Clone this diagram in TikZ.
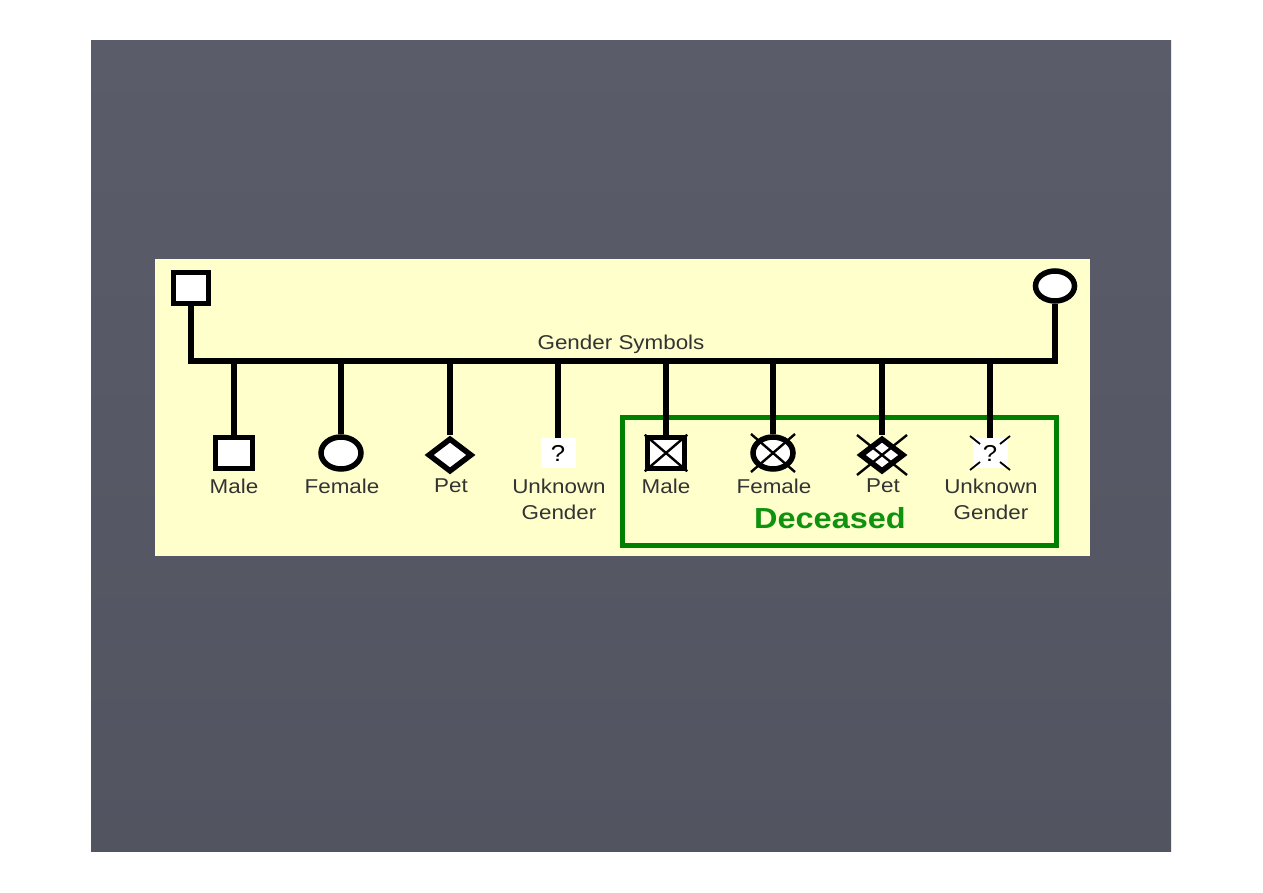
\documentclass[tikz,border=0pt]{standalone}
\usepackage{fontspec}
\usetikzlibrary{shapes.geometric,calc}
\newfontfamily\labfont[FakeStretch=1.12]{Liberation Sans}
\definecolor{slatetop}{HTML}{5A5C6A}
\definecolor{slatebot}{HTML}{525460}
\definecolor{panel}{HTML}{FFFFCC}
\definecolor{dgreen}{HTML}{008000}
\definecolor{tgreen}{HTML}{0F930F}
\definecolor{txt}{HTML}{333333}
\tikzset{
  ln/.style={line width=6pt, line cap=rect},
  msq/.style={draw, line width=5.5pt, fill=white, rectangle, minimum width=37pt, minimum height=31pt, inner sep=0pt},
  fcirc/.style={draw, line width=5.5pt, fill=white, ellipse, minimum width=40pt, minimum height=32pt, inner sep=0pt},
  pdia/.style={draw, line width=5.5pt, fill=white, diamond, minimum width=44pt, minimum height=34pt, inner sep=0pt},
  ubox/.style={fill=white, rectangle, minimum width=35pt, minimum height=30pt, inner sep=0pt, text=black, font=\labfont\fontsize{23}{24}\selectfont},
  xln/.style={line width=2.4pt},
  tick/.style={line width=1.8pt},
  lab/.style={text=txt, font=\labfont\fontsize{20}{26}\selectfont, align=center, inner sep=0pt},
}
\begin{document}
\begin{tikzpicture}[x=1pt,y=-1pt]
\useasboundingbox (0,0) rectangle (1263,893);
\fill[white] (0,0) rectangle (1263,893);
\shade[top color=slatetop, bottom color=slatebot] (91,41) rectangle (1171,851);
\fill[panel] (155,259) rectangle (1090,556);
% deceased frame
\draw[dgreen, line width=5pt] (622,417) rectangle (1056,545);
\node[text=tgreen, font=\labfont\bfseries\fontsize{29}{32}\selectfont, inner sep=0pt] (dec) at (830,518) {Deceased};
% parents
\node[msq, minimum width=35pt] (father) at (191,288) {};
\node[fcirc, minimum width=39pt, minimum height=30pt] (mother) at (1055,286) {};
\coordinate (jl) at (191,361);
\coordinate (jr) at (1055,361);
\draw[ln, line cap=butt] (father) -- (jl);
\draw[ln, line cap=butt] (mother) -- (jr);
\draw[ln] (jl) -- (jr);
\node[lab] (title) at (621,344) {Gender Symbols};
% children (living)
\node[msq] (male) at (234,453) {};
\node[fcirc] (female) at (341,453) {};
\node[pdia] (pet) at (450,455) {};
\node[ubox] (unk) at (558,453) {?};
% children (deceased)
\node[msq] (dmale) at (666,453) {};
\node[fcirc] (dfemale) at (773,453) {};
\node[pdia] (dpet) at (882,455) {};
\node[ubox] (dunk) at (990,453) {};
% drop lines
\foreach \n/\x in {male/234, female/341, pet/450, unk/558, dmale/666, dfemale/773, dpet/882, dunk/990}{
  \coordinate (t\n) at (\x,361);
  \draw[ln, line cap=butt] (t\n) -- (\n.north);
}
% crosses
\draw[xln] (dmale.north west) -- (dmale.south east);
\draw[xln] (dmale.south west) -- (dmale.north east);
\draw[xln] ($(dfemale.center)+(-22,-19)$) -- ($(dfemale.center)+(22,19)$);
\draw[xln] ($(dfemale.center)+(-22,19)$) -- ($(dfemale.center)+(22,-19)$);
\draw[xln] ($(dpet.center)+(-25,-20)$) -- ($(dpet.center)+(25,20)$);
\draw[xln] ($(dpet.center)+(-25,20)$) -- ($(dpet.center)+(25,-20)$);
\foreach \sx/\sy in {-1/-1, 1/-1, -1/1, 1/1}{
  \draw[tick] ($(dunk.center)+(\sx*20,\sy*17)$) -- ($(dunk.center)+(\sx*10,\sy*9)$);
}
\node[text=black, font=\labfont\fontsize{23}{24}\selectfont, inner sep=0pt] (dq) at (dunk.center) {?};
% labels
\node[lab] (lmale) at (234,486) {Male};
\node[lab] (lfemale) at (342,486) {Female};
\node[lab] (lpet) at (451,486) {Pet};
\node[lab, anchor=north] (lunk) at (559,479) {Unknown\\Gender};
\node[lab] (ldmale) at (666,486) {Male};
\node[lab] (ldfemale) at (774,486) {Female};
\node[lab] (ldpet) at (883,486) {Pet};
\node[lab, anchor=north] (ldunk) at (991,479) {Unknown\\Gender};
\end{tikzpicture}
\end{document}
